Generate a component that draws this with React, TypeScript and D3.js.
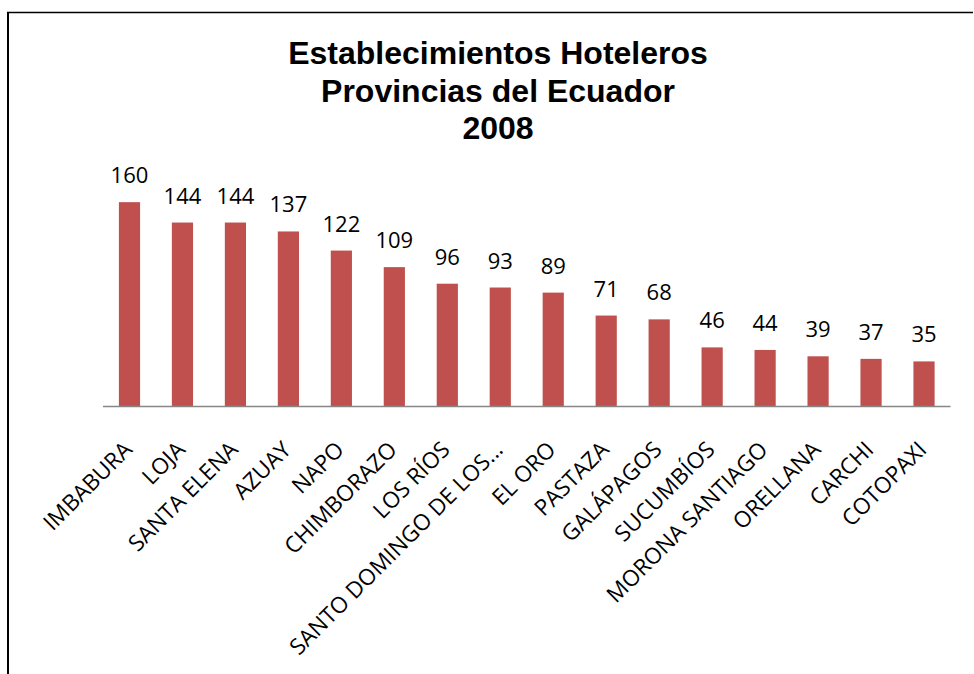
import React, { useEffect, useRef } from 'react';
import * as d3 from 'd3';

// Provinces and number of hotel establishments, 2008
const provincias: string[] = [
  'IMBABURA', 'LOJA', 'SANTA ELENA', 'AZUAY', 'NAPO', 'CHIMBORAZO', 'LOS RÍOS',
  'SANTO DOMINGO DE LOS...', 'EL ORO', 'PASTAZA', 'GALÁPAGOS', 'SUCUMBÍOS',
  'MORONA SANTIAGO', 'ORELLANA', 'CARCHI', 'COTOPAXI'
];
const establecimientos: number[] = [160, 144, 144, 137, 122, 109, 96, 93, 89, 71, 68, 46, 44, 39, 37, 35];
const tituloLineas: string[] = ['Establecimientos Hoteleros', 'Provincias del Ecuador', '2008'];

const WIDTH = 974;
const HEIGHT = 674;

const App: React.FC = () => {
  const svgRef = useRef<SVGSVGElement>(null);

  useEffect(() => {
    if (!svgRef.current) return;
    const svg = d3.select(svgRef.current);
    svg.selectAll('*').remove();

    svg.append('rect')
      .attr('width', WIDTH)
      .attr('height', HEIGHT)
      .attr('fill', '#fff');

    // frame (top + left edges are the only visible ones)
    svg.append('line')
      .attr('x1', 7).attr('x2', 973)
      .attr('y1', 12.5).attr('y2', 12.5)
      .attr('stroke', '#000').attr('stroke-width', 1.5);
    svg.append('line')
      .attr('x1', 8).attr('x2', 8)
      .attr('y1', 12).attr('y2', HEIGHT)
      .attr('stroke', '#000').attr('stroke-width', 2);

    // Title
    const title = svg.append('text')
      .attr('text-anchor', 'middle')
      .attr('font-family', '"Liberation Sans", Arial, sans-serif')
      .attr('font-weight', 'bold')
      .attr('font-size', 32)
      .attr('fill', '#000');
    tituloLineas.forEach((t, i) => {
      title.append('tspan')
        .attr('x', 498)
        .attr('y', 64 + i * 37.5)
        .text(t);
    });

    const baseY = 406;
    const x = d3.scaleBand<string>()
      .domain(provincias)
      .range([103, 950.5])
      .paddingInner(0.6)
      .paddingOuter(0.3);

    const y = d3.scaleLinear()
      .domain([0, 180])
      .range([baseY, baseY - 180 * 1.274]);

    const data = provincias.map((p, i) => ({ p, v: establecimientos[i] }));

    // Bars
    svg.append('g')
      .selectAll('rect')
      .data(data)
      .enter()
      .append('rect')
      .attr('x', d => x(d.p)!)
      .attr('y', d => y(d.v))
      .attr('width', x.bandwidth())
      .attr('height', d => baseY - y(d.v))
      .attr('fill', '#C0504D');

    // Value labels
    svg.append('g')
      .selectAll('text')
      .data(data)
      .enter()
      .append('text')
      .attr('x', d => x(d.p)! + x.bandwidth() / 2)
      .attr('y', d => y(d.v) - 19)
      .attr('text-anchor', 'middle')
      .attr('font-family', '"Open Sans", sans-serif')
      .attr('font-size', 22)
      .attr('fill', '#000')
      .text(d => d.v);

    // Category axis line
    svg.append('line')
      .attr('x1', 103).attr('x2', 950.5)
      .attr('y1', baseY + 0.5).attr('y2', baseY + 0.5)
      .attr('stroke', '#868686')
      .attr('stroke-width', 1.5);

    // Rotated category labels
    svg.append('g')
      .selectAll('text')
      .data(data)
      .enter()
      .append('text')
      .attr('transform', d => {
        const cx = x(d.p)! + x.bandwidth() / 2 + 4;
        return `translate(${cx}, 451) rotate(-45)`;
      })
      .attr('text-anchor', 'end')
      .attr('font-family', '"Open Sans", sans-serif')
      .attr('font-size', 22.5)
      .attr('fill', '#000')
      .text(d => d.p);
  }, []);

  return (
    <svg
      ref={svgRef}
      width={WIDTH}
      height={HEIGHT}
      style={{ position: 'absolute', left: 0, top: 0, display: 'block' }}
    />
  );
};

export default App;
